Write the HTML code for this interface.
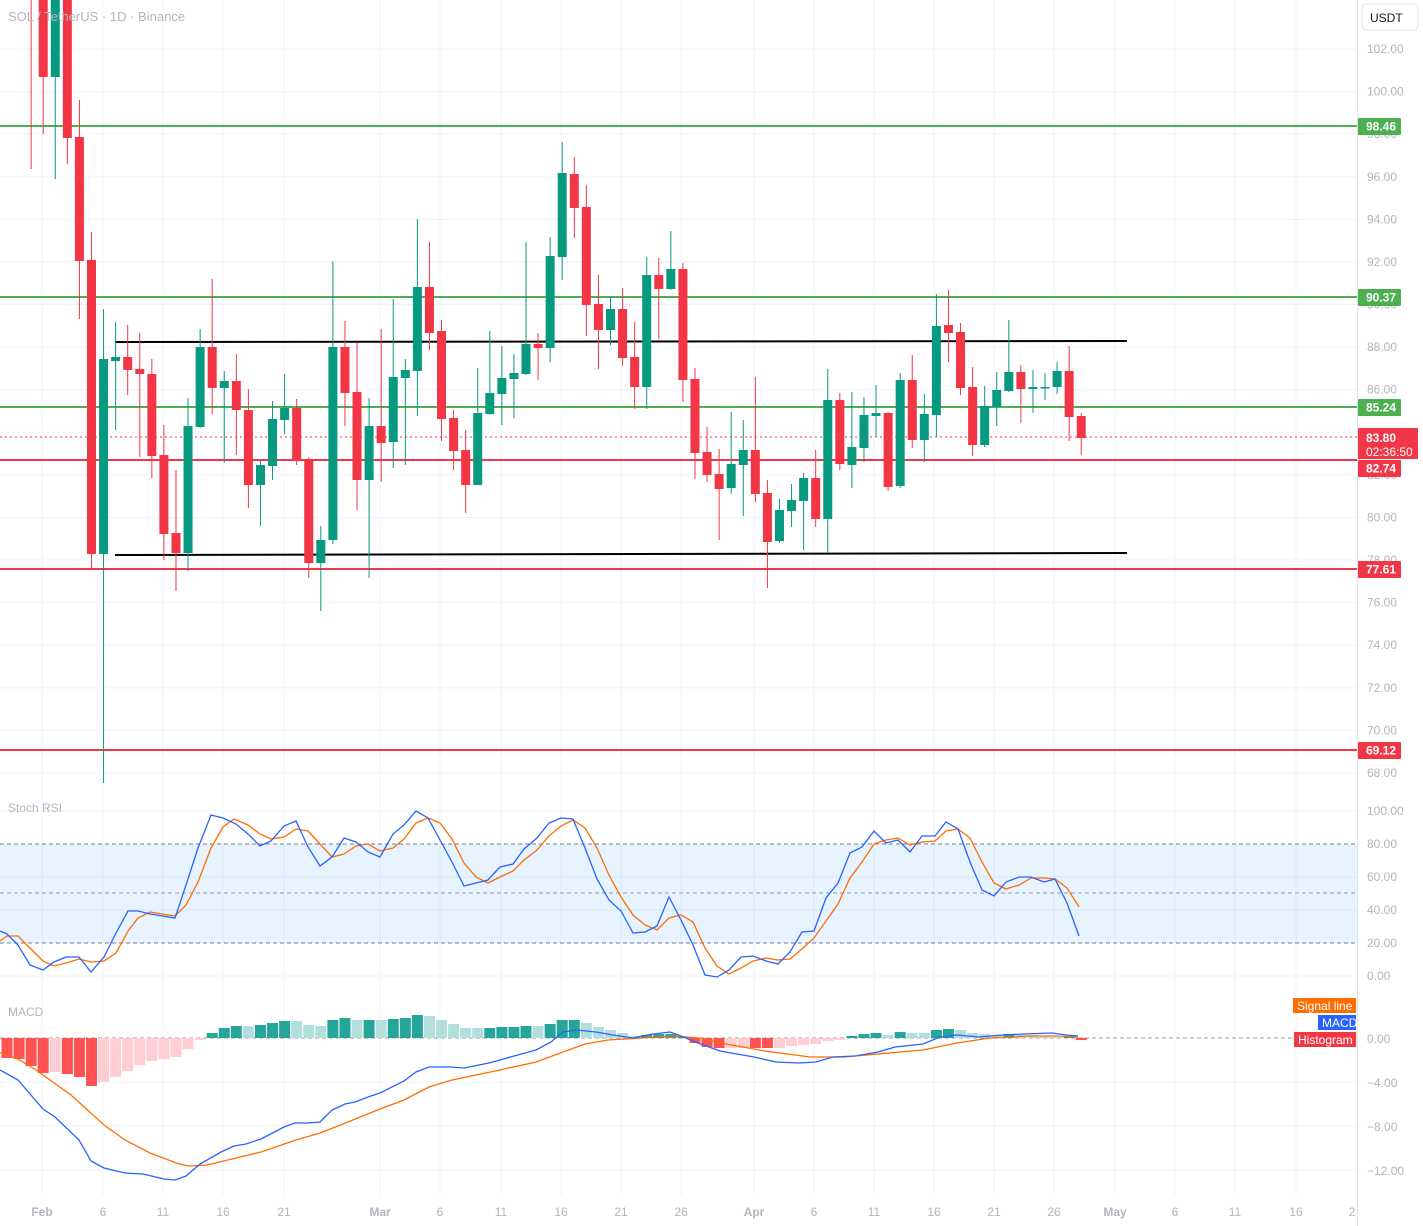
<!DOCTYPE html>
<html><head><meta charset="utf-8">
<style>
html,body{margin:0;padding:0;background:#fff;}
svg{display:block;font-family:"Liberation Sans",sans-serif;}
</style></head>
<body>
<svg id="c" width="1423" height="1226" xmlns="http://www.w3.org/2000/svg">
<defs>
<clipPath id="mp"><rect x="0" y="0" width="1357" height="790"/></clipPath>
<clipPath id="sp"><rect x="0" y="795" width="1357" height="195"/></clipPath>
<clipPath id="mc"><rect x="0" y="995" width="1357" height="200"/></clipPath>
</defs>
<g id="grid"></g>
<rect x="0" y="844" width="1357" height="99" fill="#2196f3" fill-opacity="0.11"/>
<g id="lines"></g>
<g id="cand" clip-path="url(#mp)"></g>
<g id="ind"></g>
<g id="ax"></g>
<text x="8" y="21" font-size="13" fill="#b2b5be">SOL / TetherUS · 1D · Binance</text>
<text x="8" y="812" font-size="12" fill="#b2b5be">Stoch RSI</text>
<text x="8" y="1016" font-size="12" fill="#b2b5be">MACD</text>
<rect x="1362" y="4" width="56" height="26" rx="4" fill="#fff" stroke="#e0e3eb"/>
<text x="1370" y="22" font-size="12" fill="#131722">USDT</text>
</svg>
<script>
const NS="http://www.w3.org/2000/svg";
function el(p,t,a,txt){const e=document.createElementNS(NS,t);for(const k in a)e.setAttribute(k,a[k]);if(txt!==undefined)e.textContent=txt;document.getElementById(p).appendChild(e);return e;}
const py=p=>49+(102-p)*21.294;
// grid
const vx=[42,103,163,223,284,380,440,501,561,621,681,754,814,874,934,994,1054,1115,1175,1235,1296];
vx.forEach(x=>el('grid','line',{x1:x,x2:x,y1:0,y2:1195,stroke:'#f0f3fa','stroke-width':1}));
for(let p=68;p<=102;p+=2){const y=py(p);el('grid','line',{x1:0,x2:1357,y1:y,y2:y,stroke:'#f0f3fa'});}
[811,877,910,976].forEach(y=>el('grid','line',{x1:0,x2:1357,y1:y,y2:y,stroke:'#f0f3fa'}));
[1082,1126,1170].forEach(y=>el('grid','line',{x1:0,x2:1357,y1:y,y2:y,stroke:'#f0f3fa'}));
el('grid','line',{x1:1357.5,x2:1357.5,y1:0,y2:1226,stroke:'#e0e3eb'});
// horizontal levels
[[126,'#4caf50'],[297,'#4caf50'],[407,'#4caf50'],[460,'#f23645'],[569,'#f23645'],[750,'#f23645']].forEach(([y,c])=>el('lines','line',{x1:0,x2:1357,y1:y,y2:y,stroke:c,'stroke-width':2}));
el('lines','line',{x1:115,x2:1127,y1:342,y2:341,stroke:'#000','stroke-width':2});
el('lines','line',{x1:115,x2:1127,y1:555,y2:553,stroke:'#000','stroke-width':2});
el('lines','line',{x1:0,x2:1357,y1:437,y2:437,stroke:'#f23645','stroke-width':1,'stroke-dasharray':'2,3'});
// candles: i,color,wt,wb,bt,bb
const C=[
[2,'r',-10,169,-40,-10],[3,'r',-10,134,-10,77],[4,'g',-10,179,-10,77],[5,'r',-10,164,-10,138],[6,'r',100,319,137,261],[7,'r',232,568,260,554],[8,'g',309,783,359,554],[9,'g',322,430,357,361],[10,'r',325,395,357,370],[11,'r',333,457,369,374],[12,'r',359,478,374,456],[13,'r',425,560,455,534],[14,'r',470,591,533,553],[15,'g',398,571,426,553],[16,'g',329,428,347,427],[17,'r',279,414,347,388],[18,'g',371,463,381,388],[19,'r',354,455,381,410],[20,'r',389,508,410,485],[21,'g',460,526,465,485],[22,'g',401,480,419,466],[23,'g',374,434,408,420],[24,'r',399,465,408,460],[25,'r',457,578,459,563],[26,'g',526,611,540,563],[27,'g',261,544,347,540],[28,'r',321,426,347,393],[29,'r',342,510,392,480],[30,'g',398,578,426,480],[31,'r',329,482,426,443],[32,'g',299,468,377,442],[33,'g',359,465,370,378],[34,'g',219,416,287,371],[35,'r',242,350,287,333],[36,'r',320,441,331,419],[37,'r',410,470,418,451],[38,'r',430,513,450,485],[39,'g',368,485,413,485],[40,'g',331,415,393,414],[41,'g',346,425,378,394],[42,'g',354,418,373,379],[43,'g',242,375,344,374],[44,'r',333,380,344,348],[45,'g',237,362,256,348],[46,'g',142,280,173,257],[47,'r',157,238,174,208],[48,'r',185,336,207,305],[49,'r',275,369,304,330],[50,'g',296,345,309,330],[51,'r',288,366,309,358],[52,'r',322,409,357,387],[53,'g',257,409,275,387],[54,'r',258,339,275,289],[55,'g',231,290,269,289],[56,'r',263,402,269,380],[57,'r',368,479,379,453],[58,'r',427,482,452,475],[59,'r',449,540,474,489],[60,'g',412,494,464,488],[61,'g',420,516,450,465],[62,'r',377,502,450,494],[63,'r',480,588,493,542],[64,'g',499,543,510,541],[65,'g',484,527,500,511],[66,'g',473,550,478,501],[67,'r',450,527,478,519],[68,'g',369,553,400,519],[69,'r',393,470,400,464],[70,'g',392,488,447,465],[71,'g',397,462,415,448],[72,'g',385,437,413,416],[73,'r',412,491,413,487],[74,'g',373,488,380,486],[75,'r',355,448,380,440],[76,'g',394,462,414,440],[77,'g',294,437,326,415],[78,'r',290,362,325,333],[79,'r',323,395,332,388],[80,'r',367,456,387,445],[81,'g',386,447,406,445],[82,'g',372,426,390,407],[83,'g',320,392,372,391],[84,'r',365,423,372,389],[85,'g',370,413,387,389],[86,'g',373,400,387,388],[87,'g',362,394,371,387],[88,'r',346,441,371,417],[89,'r',413,455,416,438]];
C.forEach(([i,c,wt,wb,bt,bb])=>{const x=7+12.07*i;const col=c=='g'?'#089981':'#f23645';
el('cand','line',{x1:x,x2:x,y1:wt,y2:wb,stroke:col,'stroke-width':1});
el('cand','rect',{x:x-4.5,y:bt,width:9,height:Math.max(1.5,bb-bt),fill:col});});
// stoch
[[844,'#787b86'],[893,'#9598a1'],[943,'#787b86']].forEach(([y,c])=>el('ind','line',{x1:0,x2:1357,y1:y,y2:y,stroke:c,'stroke-dasharray':'4,3'}));
const sb=[[0,931],[7,934],[18,945],[30,965],[43,970],[54,962],[66,957],[79,957],[91,972],[104,957],[116,933],[128,911],[138,911],[150,914],[175,918],[186,885],[198,848],[211,815],[223,818],[236,824],[248,834],[260,846],[271,841],[284,826],[296,821],[308,847],[320,866],[332,857],[344,838],[356,842],[368,852],[380,857],[393,834],[404,825],[416,811],[428,818],[440,840],[452,862],[464,886],[476,883],[488,880],[500,867],[513,864],[524,849],[537,838],[549,823],[561,818],[573,819],[585,848],[597,879],[609,900],[621,911],[633,933],[645,932],[657,926],[669,897],[681,920],[693,945],[705,975],[717,977],[729,970],[741,957],[753,956],[766,961],[778,964],[790,952],[802,932],[814,931],[826,898],[838,883],[850,853],[862,847],[874,831],[886,843],[898,840],[910,852],[922,836],[935,836],[946,822],[958,829],[970,862],[982,890],[994,896],[1006,882],[1019,877],[1031,877],[1044,882],[1055,879],[1067,903],[1079,936]];
const so=[[0,941],[7,936],[18,936],[30,948],[43,961],[54,966],[66,963],[79,959],[91,962],[104,961],[116,953],[128,931],[138,918],[150,912],[175,916],[186,905],[198,882],[211,848],[223,827],[234,819],[248,825],[260,834],[271,839],[284,837],[296,829],[308,831],[320,844],[332,857],[344,854],[356,846],[368,844],[380,851],[393,848],[404,839],[416,823],[428,818],[440,823],[452,839],[464,863],[476,877],[488,883],[500,877],[513,871],[524,860],[537,850],[549,836],[561,826],[573,820],[585,828],[597,848],[609,875],[621,897],[633,915],[645,925],[657,930],[669,918],[681,915],[693,922],[705,948],[717,966],[729,974],[741,968],[753,961],[766,958],[778,960],[790,959],[802,949],[814,938],[826,921],[838,904],[850,878],[862,862],[874,844],[886,840],[898,838],[910,845],[922,842],[935,841],[946,831],[958,829],[970,838],[982,862],[994,883],[1006,889],[1019,885],[1031,878],[1044,878],[1055,879],[1067,888],[1079,907]];
el('ind','polyline',{points:so.join(' '),fill:'none',stroke:'#ff6d00','stroke-width':1.3});
el('ind','polyline',{points:sb.join(' '),fill:'none',stroke:'#2962ff','stroke-width':1.3});
// macd hist
el('ind','line',{x1:0,x2:1357,y1:1038,y2:1038,stroke:'#9598a1','stroke-dasharray':'4,3'});
const H=[[1058,'R'],[1059,'R'],[1066,'R'],[1073,'R'],[1072,'P'],[1074,'R'],[1077,'R'],[1086,'R'],[1082,'P'],[1077,'P'],[1071,'P'],[1065,'P'],[1061,'P'],[1059,'P'],[1057,'P'],[1049,'P'],[1040,'P'],[1033,'D'],[1028,'D'],[1026,'D'],[1026,'L'],[1025,'D'],[1023,'D'],[1021,'D'],[1021,'L'],[1025,'L'],[1026,'L'],[1020,'D'],[1018,'D'],[1020,'L'],[1020,'D'],[1020,'L'],[1019,'D'],[1018,'D'],[1015,'D'],[1016,'L'],[1020,'L'],[1024,'L'],[1028,'L'],[1028,'L'],[1028,'D'],[1027,'D'],[1027,'D'],[1026,'D'],[1026,'L'],[1024,'D'],[1020,'D'],[1020,'D'],[1023,'L'],[1027,'L'],[1030,'L'],[1033,'L'],[1036,'L'],[1035,'D'],[1034,'D'],[1034,'D'],[1037,'D'],[1043,'R'],[1047,'R'],[1048,'R'],[1048,'P'],[1048,'P'],[1048,'R'],[1048,'R'],[1048,'P'],[1046,'P'],[1045,'P'],[1044,'P'],[1041,'P'],[1040,'P'],[1036,'D'],[1034,'D'],[1033,'D'],[1035,'L'],[1032,'D'],[1033,'L'],[1033,'L'],[1030,'D'],[1029,'D'],[1030,'L'],[1033,'L'],[1034,'L'],[1035,'L'],[1034,'D'],[1035,'L'],[1035,'L'],[1036,'L'],[1037,'L'],[1036,'D'],[1040,'R']];
const HC={R:'#ff5252',P:'#ffcdd2',D:'#26a69a',L:'#b2dfdb'};
H.forEach(([y,c],i)=>{const x=7+12.07*i;const t=Math.min(y,1038),h=Math.abs(y-1038);el('ind','rect',{x:x-5.5,y:t,width:11,height:Math.max(h,1),fill:HC[c]});});
const mb=[[0,1070],[18,1080],[43,1109],[55,1117],[79,1140],[91,1161],[104,1168],[125,1173],[143,1174],[164,1179],[175,1180],[186,1176],[200,1164],[221,1152],[234,1146],[246,1144],[261,1139],[284,1127],[295,1123],[307,1123],[320,1122],[332,1110],[345,1104],[355,1102],[368,1097],[380,1093],[404,1081],[416,1072],[429,1067],[450,1067],[464,1068],[489,1063],[514,1056],[536,1050],[551,1042],[563,1032],[577,1030],[596,1032],[613,1035],[633,1038],[653,1034],[670,1032],[681,1036],[698,1043],[720,1051],[737,1054],[754,1057],[776,1062],[799,1063],[816,1062],[833,1057],[855,1056],[878,1052],[895,1047],[923,1044],[940,1037],[957,1035],[979,1037],[1002,1035],[1024,1034],[1052,1033],[1066,1035],[1078,1036]];
const mo=[[0,1053],[18,1059],[36,1070],[71,1095],[104,1125],[125,1140],[150,1153],[179,1164],[189,1166],[207,1165],[232,1159],[261,1152],[296,1140],[320,1133],[343,1124],[380,1109],[404,1100],[429,1087],[452,1080],[500,1070],[536,1062],[563,1052],[585,1044],[608,1040],[641,1038],[675,1036],[698,1038],[726,1044],[765,1051],[810,1057],[844,1057],[878,1054],[923,1050],[957,1043],[990,1038],[1030,1036],[1058,1036],[1078,1037]];
el('ind','polyline',{points:mo.join(' '),fill:'none',stroke:'#ff6d00','stroke-width':1.3});
el('ind','polyline',{points:mb.join(' '),fill:'none',stroke:'#2962ff','stroke-width':1.3});
// price axis labels
const G='#b2b5be';
for(let p=68;p<=102;p+=2){el('ax','text',{x:1367,y:py(p)+4,'font-size':12,fill:G},p.toFixed(2));}
[[811,'100.00'],[844,'80.00'],[877,'60.00'],[910,'40.00'],[943,'20.00'],[976,'0.00']].forEach(([y,t])=>el('ax','text',{x:1367,y:y+4,'font-size':12,fill:G},t));
[[1038,'0.00'],[1082,'−4.00'],[1126,'−8.00'],[1170,'−12.00']].forEach(([y,t])=>el('ax','text',{x:1367,y:y+5,'font-size':12,fill:G},t));
// tags
[[126,'98.46','#4caf50'],[297,'90.37','#4caf50'],[407,'85.24','#4caf50'],[468,'82.74','#f23645'],[569,'77.61','#f23645'],[750,'69.12','#f23645']].forEach(([y,t,c])=>{el('ax','rect',{x:1358,y:y-8,width:43,height:17,fill:c,rx:1});el('ax','text',{x:1366,y:y+4.5,'font-size':12,'font-weight':'bold',fill:'#fff'},t);});
el('ax','rect',{x:1358,y:428,width:60,height:31,fill:'#f23645',rx:1});
el('ax','text',{x:1366,y:442,'font-size':12,'font-weight':'bold',fill:'#fff'},'83.80');
el('ax','text',{x:1366,y:456,'font-size':12,fill:'#fff'},'02:36:50');
// macd legend
el('ax','rect',{x:1293,y:998,width:63,height:15,fill:'#ff6d00'});
el('ax','text',{x:1297,y:1010,'font-size':12,fill:'#fff'},'Signal line');
el('ax','rect',{x:1318,y:1015,width:38,height:15,fill:'#2962ff'});
el('ax','text',{x:1322,y:1027,'font-size':12,fill:'#fff'},'MACD');
el('ax','rect',{x:1294,y:1032,width:62,height:15,fill:'#f23645'});
el('ax','text',{x:1298,y:1044,'font-size':12,fill:'#fff'},'Histogram');
// time labels
const T=[[42,'Feb',1],[103,'6'],[163,'11'],[223,'16'],[284,'21'],[380,'Mar',1],[440,'6'],[501,'11'],[561,'16'],[621,'21'],[681,'26'],[754,'Apr',1],[814,'6'],[874,'11'],[934,'16'],[994,'21'],[1054,'26'],[1115,'May',1],[1175,'6'],[1235,'11'],[1296,'16'],[1352,'2']];
T.forEach(([x,t,b])=>el('ax','text',{x:x,y:1216,'font-size':12,fill:G,'text-anchor':'middle','font-weight':b?'bold':'normal'},t));
</script>
</body></html>
